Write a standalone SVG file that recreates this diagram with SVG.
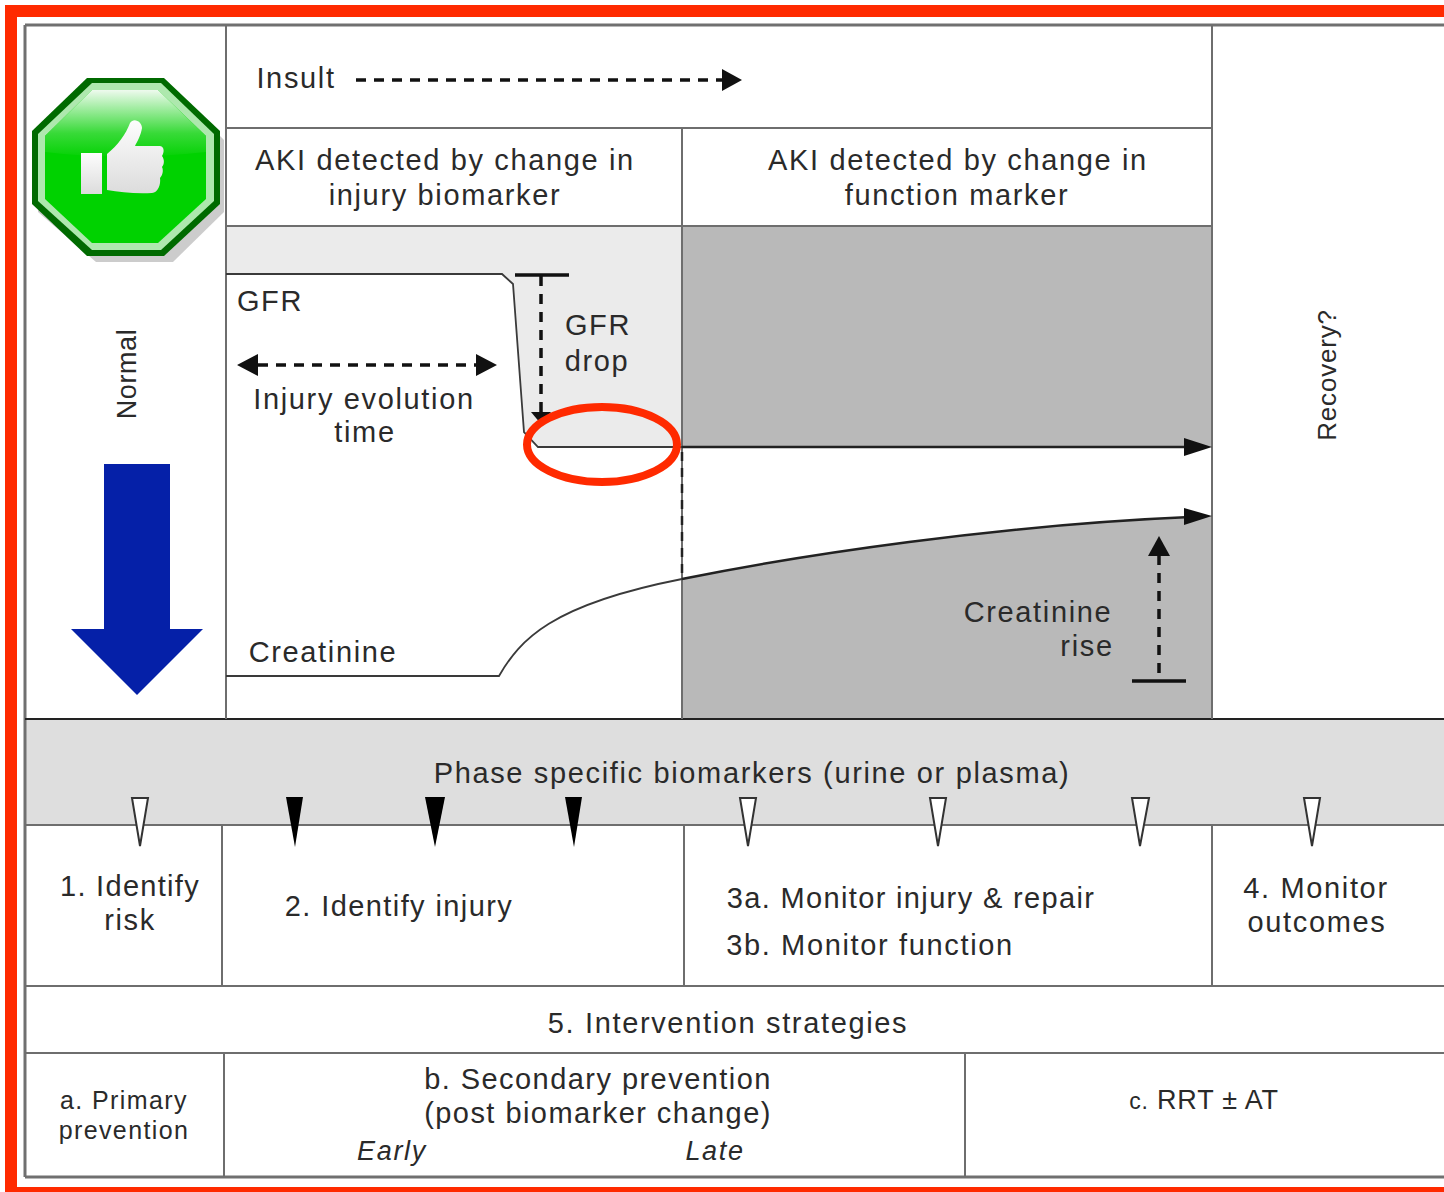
<svg xmlns="http://www.w3.org/2000/svg" width="1444" height="1192" viewBox="0 0 1444 1192">
<style>
text{font-family:"Liberation Sans",Arial,sans-serif;font-size:29px;fill:#2a2a2a;letter-spacing:1.65px;text-anchor:middle}
.g{fill:none;stroke:#6e6e6e;stroke-width:2}
.e{fill:none;stroke:#707070;stroke-width:3}
.k{fill:none;stroke:#222;stroke-width:2.5}
.t{fill:none;stroke:#3a3a3a;stroke-width:1.8}
.d{fill:none;stroke:#111;stroke-width:3.5;stroke-dasharray:10 8}
</style>
<defs>
<linearGradient id="gl" x1="0" y1="0" x2="0" y2="1"><stop offset="0" stop-color="#eefaee"/><stop offset=".65" stop-color="#38da38"/><stop offset="1" stop-color="#06d206"/></linearGradient>
<linearGradient id="th" x1="0" y1="0" x2="0" y2="1"><stop offset="0" stop-color="#fdfdfd"/><stop offset="1" stop-color="#dcdcdc"/></linearGradient>
</defs>
<rect width="1444" height="1192" fill="#fff"/>
<g id="panels">
<path d="M226 226H682V447H538L524 432L513 284L502 274H226Z" fill="#ebebeb"/>
<rect x="682" y="226" width="530" height="221" fill="#b9b9b9"/>
<path d="M682 579C800 555 1000 525 1212 516V719H682Z" fill="#b9b9b9"/>
<rect x="25" y="719" width="1419" height="106" fill="#dedede"/>
</g>
<g id="grid">
<path class="e" d="M25 25H1444M25 25V1177M25 1177H1444"/>
<path class="g" d="M226 128H1212M226 226H1212M25 825H1444M25 986H1444M25 1053H1444"/>
<path class="k" d="M25 719H1444" style="stroke-width:2"/>
<path class="g" d="M226 25V719M682 128V719M1212 25V719M222 825V986M684 825V986M1212 825V986M224 1053V1177M965 1053V1177"/>
</g>
<g id="connectors">
<path class="d" d="M356 80H722"/><path d="M722 69L742 80L722 91Z" fill="#111"/>
<path class="t" d="M226 274H502L513 284L524 432L538 447H682"/>
<path d="M682 447H1190" class="k"/><path d="M1184 438L1212 447L1184 456Z" fill="#111"/>
<path class="t" d="M226 676H499C520 640 550 605 682 579"/>
<path class="k" d="M682 579C800 555 1000 525 1190 517"/><path d="M1184 508L1212 516L1184 525Z" fill="#111"/>
<path d="M515 275H569M1132 681H1186" stroke="#111" stroke-width="3.5" fill="none"/>
<path class="d" d="M541 276V412"/><path d="M531 412H551L541 424Z" fill="#111"/>
<path class="d" d="M1159 555V680"/><path d="M1148 556L1159 536L1170 556Z" fill="#111"/>
<path class="d" d="M258 365H478"/><path d="M258 354L237 365L258 376ZM476 354L497 365L476 376Z" fill="#111"/>
<path d="M682 452V579" fill="none" stroke="#222" stroke-width="2.5" stroke-dasharray="9 7"/>
</g>
<g id="markers">
<g fill="#fff" stroke="#333" stroke-width="2"><path d="M132 798H148L140 846Z"/><path d="M740 798H756L748 846Z"/><path d="M930 798H946L938 846Z"/><path d="M1132 798H1149L1140 846Z"/><path d="M1304 798H1320L1312 846Z"/></g>
<g fill="#000"><path d="M286 797H303L295 847Z"/><path d="M425 797H445L435 847Z"/><path d="M565 797H582L574 847Z"/></g>
</g>
<g id="labels">
<text x="296" y="88">Insult</text>
<text x="445" y="170">AKI detected by change in</text>
<text x="445" y="205">injury biomarker</text>
<text x="958" y="170">AKI detected by change in</text>
<text x="957" y="205">function marker</text>
<text x="270" y="311">GFR</text>
<text x="598" y="335">GFR</text>
<text x="597" y="371">drop</text>
<text x="364" y="409">Injury evolution</text>
<text x="365" y="442">time</text>
<text x="323" y="662">Creatinine</text>
<text x="1038" y="622">Creatinine</text>
<text x="1087" y="656">rise</text>
<text transform="translate(136 374) rotate(-90)" style="font-size:27px;letter-spacing:.6px">Normal</text>
<text transform="translate(1336 375) rotate(-90)" style="font-size:26px;letter-spacing:.8px">Recovery?</text>
<text x="752" y="783">Phase specific biomarkers (urine or plasma)</text>
<text x="130" y="896" style="letter-spacing:1.3px">1. Identify</text>
<text x="130" y="930">risk</text>
<text x="399" y="916" style="letter-spacing:1.4px">2. Identify injury</text>
<text x="911" y="908" style="letter-spacing:1.35px">3a. Monitor injury &amp; repair</text>
<text x="870" y="955">3b. Monitor function</text>
<text x="1316" y="898">4. Monitor</text>
<text x="1317" y="932">outcomes</text>
<text x="728" y="1033">5. Intervention strategies</text>
<text x="124" y="1109" style="font-size:25px;letter-spacing:1.4px">a. Primary</text>
<text x="124" y="1139" style="font-size:25px;letter-spacing:1.4px">prevention</text>
<text x="598" y="1089" style="letter-spacing:1.45px">b. Secondary prevention</text>
<text x="598" y="1123" style="letter-spacing:1.45px">(post biomarker change)</text>
<text x="392" y="1160" style="font-style:italic;font-size:27px">Early</text>
<text x="715" y="1160" style="font-style:italic;font-size:27px">Late</text>
<text x="1204" y="1109" style="font-size:27px;letter-spacing:.8px"><tspan style="font-size:23px">c.</tspan> RRT ± AT</text>
</g>
<g id="stop-icon">
<path d="M96 88H173L224 140V212L173 262H96L38 212V140Z" fill="#000" opacity=".2"/>
<path d="M87 78H164L220 131V204L164 256H87L32 204V131Z" fill="#006a00"/>
<path d="M92 83H161L214 134V201L161 250H92L38 201V134Z" fill="#aee8ae"/>
<path d="M92 90H158L206 136V199L158 243H92L45 199V136Z" fill="#00d200"/>
<path d="M92 90H158L206 136V152C150 158 95 158 45 152V136Z" fill="url(#gl)"/>
<rect x="81" y="153" width="21" height="41" fill="url(#th)"/>
<path d="M107 154C118 145 126 134 130 123C134 117 142 122 142 128C141 135 137 142 135 146H160C165 147 164 153 162 156C165 160 164 165 162 167C164 171 162 176 160 178C161 184 158 193 152 193C135 194 120 192 107 190Z" fill="url(#th)"/>
</g>
<g id="annotations">
<rect x="11" y="11" width="1450" height="1182" fill="none" stroke="#ff2a00" stroke-width="12"/>
<ellipse cx="602" cy="444.5" rx="75" ry="37.5" fill="none" stroke="#ff2a00" stroke-width="8"/>
<path d="M104 464H170V629H203L137 695L71 629H104Z" fill="#0520a8"/>
</g>
</svg>
